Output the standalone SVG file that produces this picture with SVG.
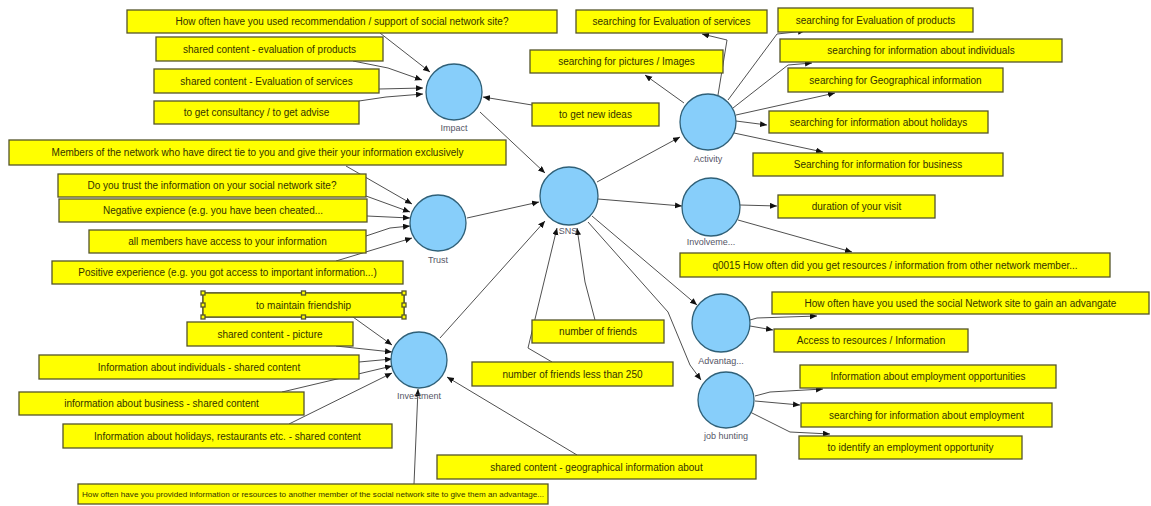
<svg xmlns="http://www.w3.org/2000/svg" width="1151" height="506" viewBox="0 0 1151 506">
<style>
.bx rect{fill:#ffff00;stroke:#55552a;stroke-width:1.3}
.bx text{font-family:"Liberation Sans",Arial,sans-serif;font-size:10px;fill:#333300;text-anchor:middle;dominant-baseline:central}
.bx text.sm{font-size:8px}
.nd circle{fill:#87cefa;stroke:#2f6078;stroke-width:1.3}
.nd text{font-family:"Liberation Sans",Arial,sans-serif;font-size:9px;fill:#556;text-anchor:middle}
.cn polyline{fill:none;stroke:#505050;stroke-width:1;marker-end:url(#ah)}
.sel{fill:none;stroke:#111;stroke-width:2}
.hd{fill:#111}
</style>
<defs>
<marker id="ah" markerUnits="userSpaceOnUse" markerWidth="8" markerHeight="7" refX="7" refY="3" orient="auto">
<path d="M0,0 L7,3 L0,6 z" fill="#111"/>
</marker>
</defs>
<rect width="1151" height="506" fill="#ffffff"/>

<g class="cn" id="connectors">
<polyline points="380,33 430,72"/>
<polyline points="353,61 388,68 422,80"/>
<polyline points="379,89 423,88"/>
<polyline points="359,101 386,97 423,94"/>
<polyline points="532,105 483,97"/>
<polyline points="480,112 545,173"/>
<polyline points="346,166 412,204"/>
<polyline points="366,196 410,212"/>
<polyline points="367,216 410,218"/>
<polyline points="366,236 390,228 410,226"/>
<polyline points="336,261 412,238"/>
<polyline points="467,218 539,202"/>
<polyline points="440,338 545,221"/>
<polyline points="552,362 528,348 557,228"/>
<polyline points="595,320 585,282 577,228"/>
<polyline points="597,182 680,137"/>
<polyline points="598,199 682,206"/>
<polyline points="592,216 697,305"/>
<polyline points="588,222 668,312 690,365 701,380"/>
<polyline points="353,317 392,345"/>
<polyline points="336,346 392,352"/>
<polyline points="359,362 392,359"/>
<polyline points="282,392 392,366"/>
<polyline points="289,424 392,373"/>
<polyline points="577,455 447,377"/>
<polyline points="414,484 418,389"/>
<polyline points="684,103 645,75"/>
<polyline points="718,95 727,40 702,34"/>
<polyline points="728,100 777,34 805,31"/>
<polyline points="733,108 788,65 812,63"/>
<polyline points="736,115 835,93"/>
<polyline points="736,121 767,125"/>
<polyline points="734,133 823,152"/>
<polyline points="740,205 777,206"/>
<polyline points="738,220 852,252"/>
<polyline points="750,320 757,318 817,316"/>
<polyline points="750,326 773,330"/>
<polyline points="755,396 770,392 823,389"/>
<polyline points="755,401 800,405"/>
<polyline points="750,412 790,432 830,434"/>
</g>

<g class="nd" id="n-impact"><circle cx="454" cy="92" r="28"/><text x="454" y="131">Impact</text></g>
<g class="nd" id="n-activity"><circle cx="708" cy="122" r="28"/><text x="708" y="162">Activity</text></g>
<g class="nd" id="n-sns"><circle cx="569" cy="196" r="29"/><text x="568" y="234">SNS</text></g>
<g class="nd" id="n-trust"><circle cx="438" cy="223" r="28"/><text x="438" y="263">Trust</text></g>
<g class="nd" id="n-involvement"><circle cx="711" cy="207" r="29"/><text x="711" y="245">Involveme...</text></g>
<g class="nd" id="n-advantage"><circle cx="721" cy="323" r="29"/><text x="721" y="364">Advantag...</text></g>
<g class="nd" id="n-jobhunting"><circle cx="726" cy="400" r="28"/><text x="726" y="439">job hunting</text></g>
<g class="nd" id="n-investment"><circle cx="419" cy="360" r="28"/><text x="419" y="399">Investment</text></g>

<g class="bx" id="b1"><rect x="127" y="10" width="430" height="23"/><text x="342" y="21.5">How often have you used recommendation / support of social network site?</text></g>
<g class="bx" id="b2"><rect x="156" y="37" width="227" height="24"/><text x="269.5" y="49">shared content - evaluation of products</text></g>
<g class="bx" id="b3"><rect x="154" y="69" width="225" height="24"/><text x="266.5" y="81">shared content - Evaluation of services</text></g>
<g class="bx" id="b4"><rect x="154" y="101" width="205" height="23"/><text x="256.5" y="112.5">to get consultancy / to get advise</text></g>
<g class="bx" id="b5"><rect x="9" y="140" width="497" height="25"/><text x="257.5" y="152.5">Members of the network who have direct tie to you and give their your information exclusively</text></g>
<g class="bx" id="b6"><rect x="58" y="174" width="308" height="23"/><text x="212" y="185.5">Do you trust the information on your social network site?</text></g>
<g class="bx" id="b7"><rect x="59" y="199" width="308" height="23"/><text x="213" y="210.5">Negative expience (e.g. you have been cheated...</text></g>
<g class="bx" id="b8"><rect x="89" y="230" width="277" height="23"/><text x="227.5" y="241.5">all members have access to your information</text></g>
<g class="bx" id="b9"><rect x="52" y="261" width="351" height="23"/><text x="227.5" y="272.5">Positive experience (e.g. you got access to important information...)</text></g>

<g class="bx" id="b10"><rect x="203" y="293" width="201" height="24"/><rect class="sel" x="203" y="293" width="201" height="24"/><rect class="hd" x="201" y="291" width="4" height="4"/><rect class="hd" x="301.5" y="291" width="4" height="4"/><rect class="hd" x="402" y="291" width="4" height="4"/><rect class="hd" x="201" y="303" width="4" height="4"/><rect class="hd" x="402" y="303" width="4" height="4"/><rect class="hd" x="201" y="315" width="4" height="4"/><rect class="hd" x="301.5" y="315" width="4" height="4"/><rect class="hd" x="402" y="315" width="4" height="4"/><text x="303.5" y="305">to maintain friendship</text></g>
<g class="bx" id="b11"><rect x="187" y="322" width="166" height="24"/><text x="270" y="334">shared content - picture</text></g>
<g class="bx" id="b12"><rect x="39" y="355" width="320" height="24"/><text x="199" y="367">Information about individuals - shared content</text></g>
<g class="bx" id="b13"><rect x="19" y="392" width="285" height="23"/><text x="161.5" y="403.5">information about business - shared content</text></g>
<g class="bx" id="b14"><rect x="63" y="424" width="329" height="24"/><text x="227.5" y="436">Information about holidays, restaurants etc. - shared content</text></g>
<g class="bx" id="b15"><rect x="78" y="484" width="470" height="20"/><text class="sm" x="313" y="494" textLength="462" lengthAdjust="spacingAndGlyphs">How often have you provided information or resources to another member of the social network site to give them an advantage...</text></g>
<g class="bx" id="b16"><rect x="437" y="455" width="319" height="24"/><text x="596.5" y="467">shared content - geographical information about</text></g>
<g class="bx" id="b17"><rect x="532" y="320" width="132" height="23"/><text x="598" y="331.5">number of friends</text></g>
<g class="bx" id="b18"><rect x="472" y="362" width="201" height="24"/><text x="572.5" y="374">number of friends less than 250</text></g>
<g class="bx" id="b19"><rect x="532" y="103" width="127" height="23"/><text x="595.5" y="114.5">to get new ideas</text></g>

<g class="bx" id="b20"><rect x="530" y="50" width="193" height="23"/><text x="626.5" y="61.5">searching for pictures / Images</text></g>
<g class="bx" id="b21"><rect x="576" y="10" width="191" height="23"/><text x="671.5" y="21.5">searching for Evaluation of services</text></g>
<g class="bx" id="b22"><rect x="778" y="8" width="195" height="24"/><text x="875.5" y="20">searching for Evaluation of products</text></g>
<g class="bx" id="b23"><rect x="780" y="39" width="282" height="23"/><text x="921" y="50.5">searching for information about individuals</text></g>
<g class="bx" id="b24"><rect x="788" y="68" width="215" height="24"/><text x="895.5" y="80">searching for Geographical information</text></g>
<g class="bx" id="b25"><rect x="769" y="111" width="219" height="22"/><text x="878.5" y="122">searching for information about holidays</text></g>
<g class="bx" id="b26"><rect x="753" y="153" width="250" height="23"/><text x="878" y="164.5">Searching for information for business</text></g>

<g class="bx" id="b27"><rect x="778" y="195" width="157" height="23"/><text x="856.5" y="206.5">duration of your visit</text></g>
<g class="bx" id="b28"><rect x="680" y="253" width="430" height="24"/><text x="895" y="265">q0015 How often did you get resources / information from other network member...</text></g>

<g class="bx" id="b29"><rect x="772" y="292" width="377" height="22"/><text x="960.5" y="303">How often have you used the social Network site to gain an advangate</text></g>
<g class="bx" id="b30"><rect x="774" y="329" width="194" height="23"/><text x="871" y="340.5">Access to resources / Information</text></g>

<g class="bx" id="b31"><rect x="800" y="365" width="256" height="23"/><text x="928" y="376.5">Information about employment opportunities</text></g>
<g class="bx" id="b32"><rect x="801" y="403" width="251" height="24"/><text x="926.5" y="415">searching for information about employment</text></g>
<g class="bx" id="b33"><rect x="799" y="436" width="223" height="23"/><text x="910.5" y="447.5">to identify an employment opportunity</text></g>
</svg>
